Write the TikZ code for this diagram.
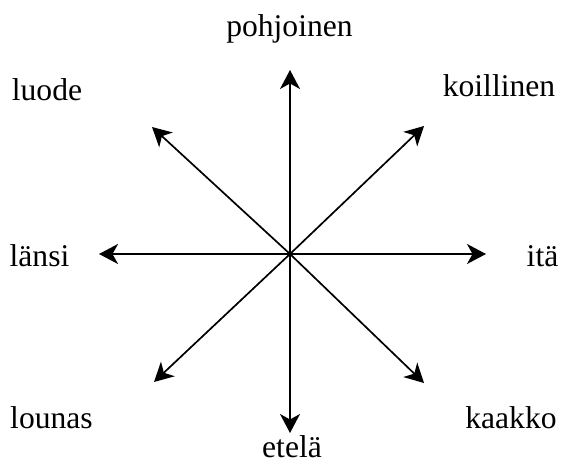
\documentclass[tikz,border=0pt]{standalone}
\usepackage{fontspec}
\setmainfont{Liberation Serif}
\usetikzlibrary{arrows.meta}
\begin{document}
\begin{tikzpicture}[x=1bp,y=-1bp,
  dirarrow/.style={line width=1.7bp,-{Stealth[length=19bp,width=20bp,inset=5.5bp]}},
  lbl/.style={anchor=base,inner sep=0pt,font=\fontsize{31.6bp}{38bp}\selectfont}]
\useasboundingbox (0,0) rectangle (561,465);
\coordinate (c) at (290,254);
\coordinate (tn) at (290,70);
\coordinate (ts) at (290,433);
\coordinate (te) at (486,254);
\coordinate (tw) at (99,254);
\coordinate (tne) at (424,126);
\coordinate (tnw) at (152,127);
\coordinate (tsw) at (154,382);
\coordinate (tse) at (424,383);
\foreach \t in {tn,ts,te,tw,tne,tnw,tsw,tse} \draw[dirarrow] (c) -- (\t);
\node[lbl] (n) at (289.5,37) {pohjoinen};
\node[lbl] (ne) at (499,97) {koillinen};
\node[lbl] (w) at (39.5,267) {länsi};
\node[lbl] (e) at (542.5,267) {itä};
\node[lbl] (s) at (292,457) {etelä};
\node[lbl] (nw) at (47,101) {luode};
\node[lbl] (sw) at (51.5,428) {lounas};
\node[lbl] (se) at (511,428) {kaakko};
\end{tikzpicture}
\end{document}
